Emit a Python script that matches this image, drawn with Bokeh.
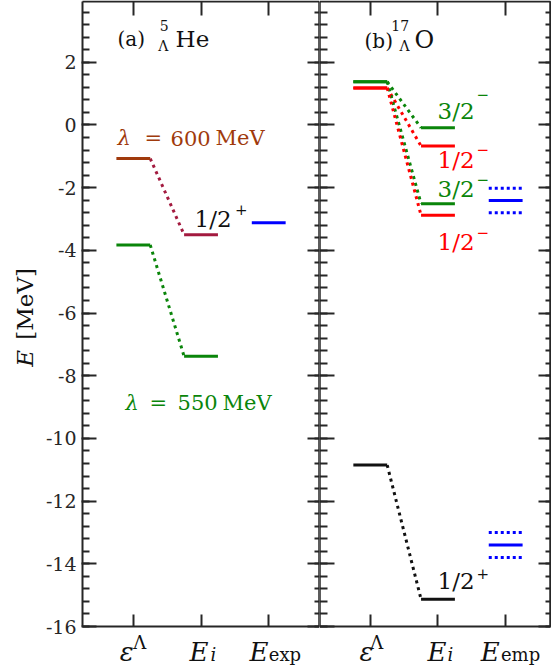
import numpy as np
from bokeh.plotting import figure
from bokeh.models import Range1d, LinearAxis, FixedTicker, Label
from bokeh.layouts import row
from bokeh.embed import file_html
from bokeh.resources import INLINE

# ---------------- data ----------------
# (a) 5_Lambda He : two cut-offs lambda
he_lambda = ["600", "550"]          # MeV
he_eps = [-1.07, -3.83]             # epsilon^Lambda
he_Ei = [-3.50, -7.38]              # E_i
he_exp = [-3.12]                    # E_exp

# (b) 17_Lambda O
o_j = ["3/2", "1/2", "3/2", "1/2", "1/2"]
o_parity = ["−", "−", "−", "−", "+"]
o_eps = [1.38, 1.18, 1.38, 1.18, -10.85]
o_Ei = [-0.09, -0.67, -2.51, -2.88, -15.13]
o_emp = [-2.41, -13.40]
o_emp_lo = [-2.80, -13.80]
o_emp_hi = [-2.02, -13.00]

x_ticks = [1, 2, 3]
y_ticks = [-16, -14, -12, -10, -8, -6, -4, -2, 0, 2]
y_tick_labels = ["-16", "-14", "-12", "-10", "-8", "-6", "-4", "-2", "0", "2"]

# ---------------- style ----------------
FONT = "DejaVu Serif"
INK = "#262626"
BROWN = "#a03a0c"
CRIMSON = "#a31a3f"
GREEN = "#0a850a"
RED = "#ff0000"
BLUE = "#0000ff"
BLACK = "#111111"

EPS_X, EI_X, EXP_X, HALF = 1.0, 2.0, 3.0, 0.25
YLO, YHI = -16.0, 3.94            # drawn box
H = 666
BOX_H = 625
PXU_X = 67.7                      # px per x unit
PXU_Y = BOX_H / (YHI - YLO)       # px per y unit
Y_TOP = YHI + 1 / PXU_Y
Y_BOT = YLO - (H - 1 - BOX_H) / PXU_Y
TEXT_LIFT = 6                     # px: compensates the renderer's baseline offset
minor = [float(v) for v in np.round(np.arange(-16, 3.7, 0.4), 2)]


def base_axis(ax):
    ax.axis_line_color = INK
    ax.axis_line_width = 2
    ax.major_tick_line_color = INK
    ax.major_tick_line_width = 2
    ax.minor_tick_line_color = INK
    ax.minor_tick_line_width = 2
    ax.major_tick_out = 0
    ax.minor_tick_out = 0


def tick_axis(p, side, loc, bounds, ticks, length):
    """axis line with label-free ticks (drawn as minor ticks)"""
    ax = LinearAxis(fixed_location=loc, bounds=bounds,
                    ticker=FixedTicker(ticks=[], minor_ticks=ticks))
    base_axis(ax)
    ax.minor_tick_in = length
    ax.major_tick_in = 0
    p.add_layout(ax, side)
    return ax


def make_fig(width, x0, x1, xbox1, left_labels):
    p = figure(width=width, height=H, x_range=Range1d(x0, x1),
               y_range=Range1d(Y_BOT, Y_TOP), toolbar_location=None,
               output_backend="svg", x_axis_location=None, y_axis_location=None,
               min_border=0)
    p.xgrid.visible = False
    p.ygrid.visible = False
    p.outline_line_color = None
    p.background_fill_color = "white"
    p.border_fill_color = "white"
    xb = (0.25, xbox1)
    yb = (YLO, YHI)
    tick_axis(p, "below", YLO, xb, x_ticks, 12)
    tick_axis(p, "above", YHI, xb, x_ticks, 14)
    if left_labels:
        ax = LinearAxis(fixed_location=0.25, bounds=yb,
                        ticker=FixedTicker(ticks=y_ticks, minor_ticks=minor))
        base_axis(ax)
        ax.major_tick_in = 14
        ax.major_tick_out = 1
        ax.minor_tick_in = 7
        ax.major_label_text_font = FONT
        ax.major_label_text_font_size = "19px"
        ax.major_label_text_color = INK
        ax.major_label_standoff = 5
        ax.major_label_overrides = {t: s for t, s in zip(y_ticks, y_tick_labels)}
        p.add_layout(ax, "left")
    else:
        tick_axis(p, "left", 0.25, yb, y_ticks, 15)
        tick_axis(p, "left", 0.25, yb, minor, 8)
    tick_axis(p, "right", xbox1, yb, y_ticks, 12)
    tick_axis(p, "right", xbox1, yb, minor, 5)
    return p


def lab(p, x, y, text, size, color=BLACK, style="normal", angle=0.0):
    if angle:
        x = x - TEXT_LIFT / PXU_X
    else:
        y = y + TEXT_LIFT / PXU_Y
    p.add_layout(Label(x=x, y=y, text=text, text_font=FONT,
                       text_font_size=f"{size}px", text_color=color,
                       text_font_style=style, text_align="left",
                       text_baseline="alphabetic", angle=angle))


def levels(p, xc, ys, colors, dash="solid"):
    p.segment(x0=[xc - HALF] * len(ys), y0=ys, x1=[xc + HALF] * len(ys), y1=ys,
              line_color=colors, line_width=3, line_dash=dash)


def connectors(p, y_from, y_to, colors):
    p.segment(x0=[EPS_X + HALF] * len(y_from), y0=y_from,
              x1=[EI_X - HALF] * len(y_to), y1=y_to,
              line_color=colors, line_width=3, line_dash="3 4")


# ---------------- panel (a) ----------------
W1 = 319
p1 = make_fig(W1, 3.75 - W1 / PXU_X, 3.75, 3.75, True)
connectors(p1, he_eps, he_Ei, [CRIMSON, GREEN])
levels(p1, EPS_X, he_eps, [BROWN, GREEN])
levels(p1, EI_X, he_Ei, [CRIMSON, GREEN])
levels(p1, EXP_X, he_exp, [BLUE])

lab(p1, 0.767, 2.54, "(a)", 20)
lab(p1, 1.39, 2.98, "5", 14)
lab(p1, 1.37, 2.32, "Λ", 14)
lab(p1, 1.624, 2.54, "He", 23)

lab(p1, 0.767, -0.62, "λ", 21, BROWN, "italic")
lab(p1, 1.166, -0.62, "=", 21, BROWN)
lab(p1, 1.55, -0.62, he_lambda[0], 21, BROWN)
lab(p1, 2.214, -0.62, "MeV", 21, BROWN)

lab(p1, 0.885, -9.05, "λ", 21, GREEN, "italic")
lab(p1, 1.24, -9.05, "=", 21, GREEN)
lab(p1, 1.653, -9.05, he_lambda[1], 21, GREEN)
lab(p1, 2.318, -9.05, "MeV", 21, GREEN)

lab(p1, 1.904, -3.18, "1/2", 23)
lab(p1, 2.50, -2.89, "+", 15)

# x labels (below the drawn box)
YB = YLO - 31 / PXU_Y
YSUP = YB + 9 / PXU_Y
YSUB = YB - 3 / PXU_Y
lab(p1, 0.80, YB, "ε", 26, BLACK, "italic")
lab(p1, 1.0, YSUP, "Λ", 18)
lab(p1, 1.83, YB, "E", 26, BLACK, "italic")
lab(p1, 2.14, YSUB, "i", 18, BLACK, "italic")
lab(p1, 2.717, YB, "E", 26, BLACK, "italic")
lab(p1, 3.0, YSUB, "exp", 18)

# y axis title
lab(p1, -0.518, -7.71, "E", 23, BLACK, "italic", np.pi / 2)
lab(p1, -0.518, -6.85, "[MeV]", 23, BLACK, "normal", np.pi / 2)

# ---------------- panel (b) ----------------
W2 = 232
p2 = make_fig(W2, 0.25, 0.25 + W2 / PXU_X, 0.25 + 231 / PXU_X, False)
o_colors = [GREEN, RED, GREEN, RED, BLACK]
connectors(p2, o_eps, o_Ei, o_colors)
levels(p2, EPS_X, o_eps, o_colors)
levels(p2, EI_X, o_Ei, o_colors)
levels(p2, EXP_X, o_emp, [BLUE, BLUE])
levels(p2, EXP_X, o_emp_lo + o_emp_hi, [BLUE] * 4, dash="3 3")

lab(p2, 0.915, 2.48, "(b)", 20)
lab(p2, 1.31, 2.98, "17", 14)
lab(p2, 1.43, 2.32, "Λ", 14)
lab(p2, 1.653, 2.51, "O", 24)

state_label_y = [0.27, -1.32, -2.22, -3.91, -14.74]
state_sup_y = [0.79, -0.97, -1.93, -3.62, -14.49]
for j, par, c, yb, ys in zip(o_j, o_parity, o_colors, state_label_y, state_sup_y):
    lab(p2, 1.993, yb, j, 23, c)
    lab(p2, 2.57, ys, par, 15, c)

lab(p2, 0.84, YB, "ε", 26, BLACK, "italic")
lab(p2, 1.0, YSUP, "Λ", 18)
lab(p2, 1.845, YB, "E", 26, BLACK, "italic")
lab(p2, 2.14, YSUB, "i", 18, BLACK, "italic")
lab(p2, 2.63, YB, "E", 26, BLACK, "italic")
lab(p2, 2.93, YSUB, "emp", 18)

layout = row(p1, p2)
open("out.html", "w").write(file_html(layout, INLINE))
